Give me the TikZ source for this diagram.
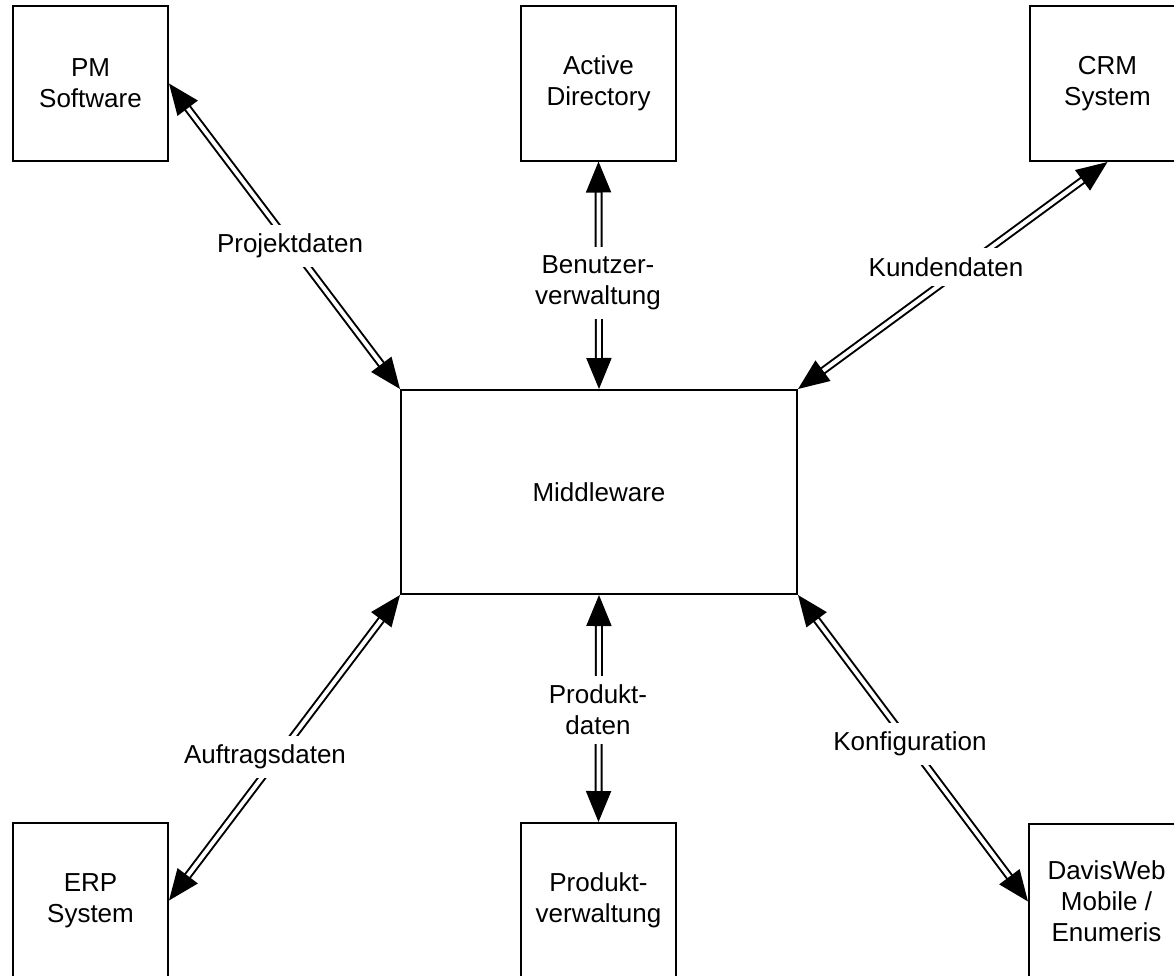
\documentclass[tikz,border=0pt]{standalone}
\usepackage{fontspec}
\setmainfont{Liberation Sans}
\usetikzlibrary{arrows.meta}
\begin{document}
\begin{tikzpicture}[x=1pt,y=-1pt,
  every node/.style={font=\fontsize{26}{31}\selectfont, align=center},
  sysbox/.style={draw, line width=2pt, minimum width=155pt, minimum height=155pt, inner sep=0pt},
  mwbox/.style={draw, line width=2pt, minimum width=396pt, minimum height=204pt, inner sep=0pt},
  flow/.style={double, double distance=4pt, line width=2pt,
    {Triangle[length=31pt,width=25pt]}-{Triangle[length=31pt,width=25pt]}},
  lbl/.style={fill=white, inner sep=9pt}
]
\useasboundingbox (0,0) rectangle (1174,975);
\clip (0,0) rectangle (1174,975);
\fill[white] (0,0) rectangle (1174,975);

\node[mwbox] (mw) at (599,492) {Middleware};
\node[sysbox] (pm) at (90.5,83.5) {PM\\Software};
\node[sysbox] (ad) at (598.5,83) {Active\\Directory};
\node[sysbox] (crm) at (1107.5,83.5) {CRM\\System};
\node[sysbox] (erp) at (90.5,900.5) {ERP\\System};
\node[sysbox] (pv) at (598.5,900.5) {Produkt-\\verwaltung};
\node[sysbox] (dw) at (1106.5,901.5) {DavisWeb\\Mobile /\\Enumeris};

\draw[flow] (mw.north west) -- (pm.east);
\draw[flow] (mw.north) -- (ad.south);
\draw[flow] (mw.north east) -- (crm.south);
\draw[flow] (mw.south west) -- (erp.east);
\draw[flow] (mw.south) -- (pv.north);
\draw[flow] (mw.south east) -- (dw.west);

\node[lbl] (l1) at (290,246) {Projektdaten};
\node[lbl] (l2) at (598,283) {Benutzer-\\verwaltung};
\node[lbl] (l3) at (946,267) {Kundendaten};
\node[lbl] (l4) at (265,757) {Auftragsdaten};
\node[lbl] (l5) at (598,710) {Produkt-\\daten};
\node[lbl] (l6) at (910,744) {Konfiguration};
\end{tikzpicture}
\end{document}
